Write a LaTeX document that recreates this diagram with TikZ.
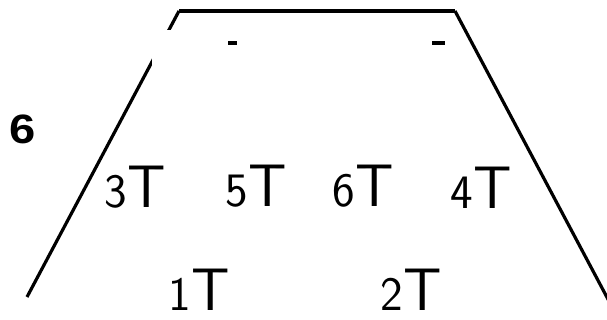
\documentclass[tikz,border=0pt]{standalone}
\usepackage{fontspec}
\newfontfamily\boldsans{Liberation Sans}
\definecolor{TrapInk}{HTML}{000000}
\usetikzlibrary{positioning}

\newcommand{\tlab}[1]{\sffamily{\fontsize{48}{48}\selectfont #1}{\fontsize{60}{60}\selectfont T}}

\begin{document}
\begin{tikzpicture}[x=1pt,y=-1pt,
    side/.style={line width=3.2pt,draw=TrapInk},
    tlabel/.style={anchor=base west,inner sep=0pt,text depth=0pt,text=TrapInk}]
    \useasboundingbox (0,0) rectangle (607,320);
    % outline
    \coordinate (bl) at (27,297);
    \coordinate (tl) at (179,11);
    \coordinate (tr) at (455,11);
    \coordinate (br) at (610,303);
    \draw[side] (bl) -- (tl);
    \draw[side] (tr) -- (br);
    \draw[line width=4.2pt,draw=TrapInk] (tl) -- (tr);
    % blank patch over the left side
    \fill[white] (152,30) rectangle (228,92);
    \draw[line width=4pt,draw=TrapInk] (228,43) -- (237,43);
    \draw[line width=4pt,draw=TrapInk] (432,43) -- (445,43);
    \node[tlabel,xscale=1.15] (six) at (9.5,144) {\fontsize{41}{41}\selectfont\boldsans\bfseries 6};
    \foreach \nm/\x/\y/\d in {t3/104.5/208/3,t5/225.5/207/5,t6/332.5/207/6,t4/450.5/209/4,t1/168.5/310/1,t2/380.5/310/2} {
      \node[tlabel] (\nm) at (\x,\y) {\tlab{\d}};
    }
  \end{tikzpicture}
\end{document}
